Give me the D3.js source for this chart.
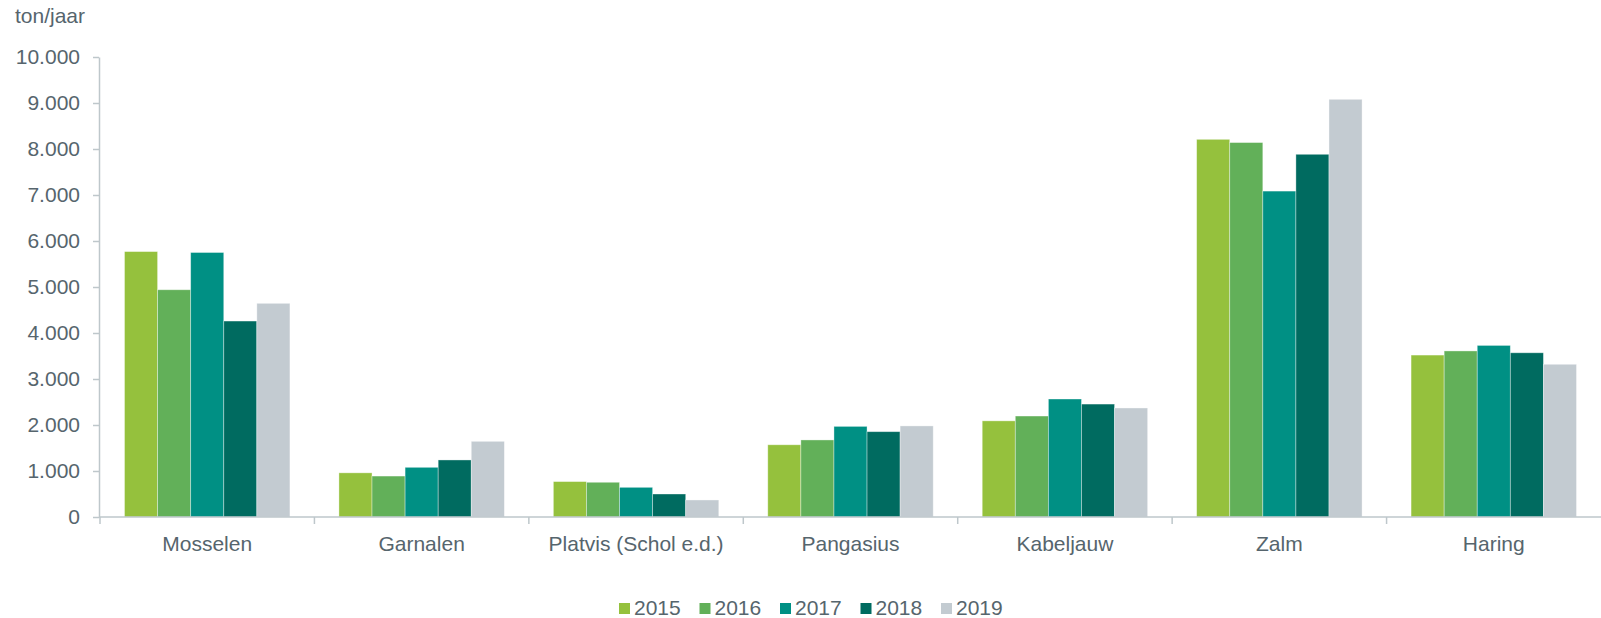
<!DOCTYPE html>
<html>
<head>
<meta charset="utf-8">
<script src="https://cdnjs.cloudflare.com/ajax/libs/d3/7.8.5/d3.min.js"></script>
<style>
  body { margin: 0; background: #fff; }
  svg { display: block; font-family: "Liberation Sans", Arial, sans-serif; }
</style>
</head>
<body>
<svg id="chart" width="1601" height="618"></svg>
<script>
var categories = ["Mosselen", "Garnalen", "Platvis (Schol e.d.)", "Pangasius", "Kabeljauw", "Zalm", "Haring"];
var years = ["2015", "2016", "2017", "2018", "2019"];
var yTicks = [0, 1000, 2000, 3000, 4000, 5000, 6000, 7000, 8000, 9000, 10000];

var v2015 = [5770, 960, 770, 1570, 2090, 8210, 3520];
var v2016 = [4940, 890, 755, 1675, 2195, 8140, 3610];
var v2017 = [5750, 1080, 645, 1970, 2565, 7085, 3730];
var v2018 = [4260, 1240, 500, 1855, 2455, 7885, 3570];
var v2019 = [4645, 1645, 370, 1980, 2370, 9080, 3320];

var series = [v2015, v2016, v2017, v2018, v2019];
var colors = ["#95c13d", "#62b059", "#009084", "#006b60", "#c3cbd1"];

var textColor = "#56656d";
var axisColor = "#bec7cb";
var fontSize = 21;

var svg = d3.select("#chart");

var x0 = d3.scaleBand().domain(categories).range([100, 1601]).padding(0);
var x1 = d3.scaleBand().domain(years).range([24.5, x0.bandwidth() - 24.5]).padding(0);
var y = d3.scaleLinear().domain([0, 10000]).range([517, 57]);

var fmt = function (d) {
  return d3.format(",")(d).replace(/,/g, ".");
};

// bars
var groups = svg.append("g").selectAll("g")
  .data(categories)
  .enter().append("g")
  .attr("transform", function (d) { return "translate(" + x0(d) + ",0)"; });

groups.selectAll("rect")
  .data(function (d, i) {
    return years.map(function (yr, j) { return { year: yr, value: series[j][i], color: colors[j] }; });
  })
  .enter().append("rect")
  .attr("x", function (d) { return x1(d.year); })
  .attr("y", function (d) { return y(d.value); })
  .attr("width", x1.bandwidth())
  .attr("height", function (d) { return y(0) - y(d.value); })
  .attr("fill", function (d) { return d.color; })
  .attr("stroke", "#ffffff")
  .attr("stroke-opacity", 0.45)
  .attr("stroke-width", 0.8);

// y axis
var yAxis = svg.append("g")
  .attr("transform", "translate(99,0)")
  .call(d3.axisLeft(y).tickValues(yTicks).tickFormat(fmt).tickSize(6).tickSizeOuter(0));
yAxis.select(".domain").attr("stroke", axisColor).attr("stroke-width", 1.5);
yAxis.selectAll(".tick line").attr("stroke", axisColor).attr("stroke-width", 1.5);
yAxis.selectAll(".tick text")
  .attr("x", -19)
  .attr("fill", textColor)
  .style("font-size", fontSize + "px")
  .style("font-family", "'Liberation Sans', Arial, sans-serif");

// x axis
svg.append("line")
  .attr("x1", 99).attr("x2", 1601)
  .attr("y1", y(0)).attr("y2", y(0))
  .attr("stroke", axisColor).attr("stroke-width", 1.5);

svg.append("g").selectAll("line")
  .data(categories)
  .enter().append("line")
  .attr("x1", function (d) { return x0(d); })
  .attr("x2", function (d) { return x0(d); })
  .attr("y1", y(0)).attr("y2", y(0) + 7)
  .attr("stroke", axisColor).attr("stroke-width", 1.5);

svg.append("g").selectAll("text")
  .data(categories)
  .enter().append("text")
  .attr("x", function (d) { return x0(d) + x0.bandwidth() / 2; })
  .attr("y", 551)
  .attr("text-anchor", "middle")
  .attr("fill", textColor)
  .style("font-size", fontSize + "px")
  .text(function (d) { return d; });

// unit label
svg.append("text")
  .attr("x", 15).attr("y", 23)
  .attr("fill", textColor)
  .style("font-size", fontSize + "px")
  .text("ton/jaar");

// legend
var legend = svg.append("g").selectAll("g")
  .data(years)
  .enter().append("g")
  .attr("transform", function (d, i) { return "translate(" + (619 + i * 80.5) + ",0)"; });

legend.append("rect")
  .attr("x", 0).attr("y", 603)
  .attr("width", 11).attr("height", 11)
  .attr("fill", function (d, i) { return colors[i]; });

legend.append("text")
  .attr("x", 15).attr("y", 615)
  .attr("fill", textColor)
  .style("font-size", fontSize + "px")
  .text(function (d) { return d; });
</script>
</body>
</html>
